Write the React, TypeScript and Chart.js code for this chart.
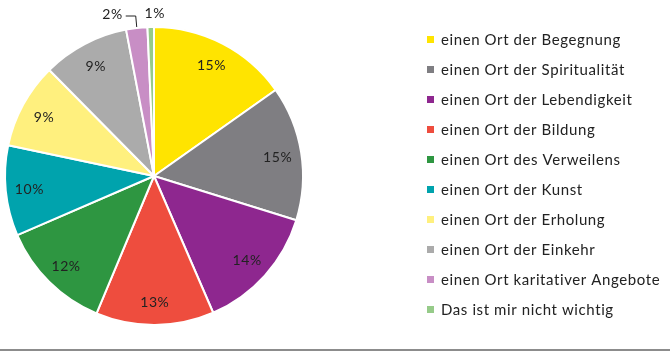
import React, { useEffect, useRef } from "react";
import { Chart, registerables } from "chart.js";

Chart.register(...registerables);

const categories = [
  "einen Ort der Begegnung",
  "einen Ort der Spiritualität",
  "einen Ort der Lebendigkeit",
  "einen Ort der Bildung",
  "einen Ort des Verweilens",
  "einen Ort der Kunst",
  "einen Ort der Erholung",
  "einen Ort der Einkehr",
  "einen Ort karitativer Angebote",
  "Das ist mir nicht wichtig",
];

const values = [15.2, 14.6, 13.7, 12.8, 12.2, 9.8, 9.3, 9.4, 2.3, 0.7];

const colors = [
  "#FFE400",
  "#7F7E82",
  "#8E278F",
  "#EE4D3E",
  "#2E9641",
  "#00A3AD",
  "#FFF07E",
  "#ABABAB",
  "#C88EC5",
  "#96CB89",
];

const FONT = "Lato, 'Open Sans', sans-serif";

const labelPlugin = {
  id: "sliceLabels",
  afterDatasetsDraw(chart: any) {
    const ctx = chart.ctx;
    const meta = chart.getDatasetMeta(0);
    const data = chart.data.datasets[0].data as number[];
    ctx.save();
    ctx.font = `14px ${FONT}`;
    (ctx as any).letterSpacing = "0.6px";
    ctx.fillStyle = "#222";
    ctx.textBaseline = "middle";
    meta.data.forEach((arc: any, i: number) => {
      const { x, y, startAngle, endAngle, outerRadius } = arc.getProps(
        ["x", "y", "startAngle", "endAngle", "outerRadius"],
        true
      );
      const mid = (startAngle + endAngle) / 2;
      const txt = Math.round(data[i]) + "%";
      if (data[i] >= 3) {
        const r = outerRadius * 0.84;
        ctx.textAlign = "center";
        ctx.fillText(txt, x + Math.cos(mid) * r, y + Math.sin(mid) * r + 1);
      } else if (i === categories.length - 2) {
        const px = x + Math.cos(mid) * outerRadius;
        const py = y + Math.sin(mid) * outerRadius;
        const ly = y - outerRadius - 11;
        ctx.strokeStyle = "#222";
        ctx.lineWidth = 1;
        ctx.beginPath();
        ctx.moveTo(px, py - 1);
        ctx.lineTo(px - 1, ly);
        ctx.lineTo(px - 11, ly);
        ctx.stroke();
        ctx.textAlign = "right";
        ctx.fillText(txt, px - 14, ly - 2);
      } else {
        const px = x + Math.cos(mid) * outerRadius;
        ctx.textAlign = "center";
        ctx.fillText(txt, px + 4, y - outerRadius - 14);
      }
    });
    ctx.restore();
  },
};

const legendPlugin = {
  id: "customLegend",
  afterDraw(chart: any) {
    const ctx = chart.ctx;
    const labels = chart.data.labels as string[];
    const bg = chart.data.datasets[0].backgroundColor as string[];
    ctx.save();
    ctx.font = `15px ${FONT}`;
    (ctx as any).letterSpacing = "0.6px";
    ctx.textBaseline = "middle";
    ctx.textAlign = "left";
    labels.forEach((lab, i) => {
      const yy = 40 + i * 30;
      ctx.fillStyle = bg[i];
      ctx.fillRect(427, yy - 4, 7, 7);
      ctx.fillStyle = "#222";
      ctx.fillText(lab, 441, yy);
    });
    // bottom rule
    ctx.fillStyle = "#8C8C8C";
    ctx.fillRect(0, 349, chart.width, 2);
    ctx.restore();
  },
};

export default function App() {
  const ref = useRef<HTMLCanvasElement | null>(null);
  useEffect(() => {
    if (!ref.current) return;
    const chart = new Chart(ref.current, {
      type: "pie",
      data: {
        labels: categories,
        datasets: [
          {
            data: values,
            backgroundColor: colors,
            borderColor: "#FFFFFF",
            borderWidth: 2,
          },
        ],
      },
      options: {
        animation: false,
        responsive: true,
        maintainAspectRatio: false,
        layout: { padding: { left: 4, right: 366, top: 26, bottom: 25 } },
        plugins: {
          legend: { display: false },
          tooltip: { enabled: false },
        },
      },
      plugins: [labelPlugin, legendPlugin],
    });
    return () => chart.destroy();
  }, []);
  return (
    <div
      style={{
        position: "fixed",
        left: 0,
        top: 0,
        width: 670,
        height: 351,
        background: "#fff",
      }}
    >
      <canvas ref={ref} />
    </div>
  );
}
